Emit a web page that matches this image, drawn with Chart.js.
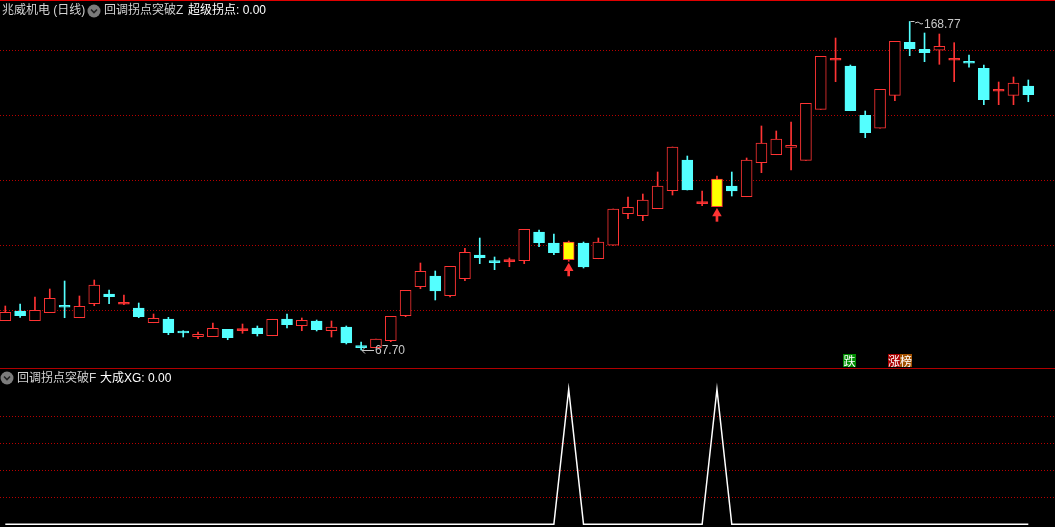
<!DOCTYPE html>
<html>
<head>
<meta charset="utf-8">
<script src="https://cdn.jsdelivr.net/npm/chart.js@4.4.0/dist/chart.umd.min.js"></script>
<style>
  body { margin: 0; background: #000; width: 1055px; height: 527px; overflow: hidden; position: relative;
         font-family: "Liberation Sans", "Noto Sans CJK SC", sans-serif; }
  canvas { position: absolute; left: 0; }
  #kChart { top: 0; }
  #xgChart { top: 369px; }
  .line { position: absolute; left: 0; width: 1055px; }
  #topLine { top: 0; height: 1px; background: #e00000; }
  #sepLine { top: 368px; height: 1px; background: #b00000; }
  .txt { position: absolute; font-size: 12px; line-height: 15px; white-space: nowrap; z-index: 2; }
  .icon { position: absolute; z-index: 2; }
  .tag { position: absolute; top: 354px; height: 13px; font-size: 12px; line-height: 13px; color: #fff;
         text-align: center; font-family: "Noto Sans CJK SC", sans-serif; z-index: 2; }
</style>
</head>
<body>
<canvas id="kChart" width="1055" height="368"></canvas>
<canvas id="xgChart" width="1055" height="158"></canvas>
<div class="line" id="topLine"></div>
<div class="line" id="sepLine"></div>

<!-- top panel header -->
<span class="txt" style="left:2px;top:3px;color:#d4d4d4">兆威机电 (日线)</span>
<svg class="icon" style="left:87px;top:4px" width="14" height="14"><circle cx="7" cy="7" r="6.5" fill="#7c7c7c"/><path d="M4 5.5 L7 8.5 L10 5.5" stroke="#222" stroke-width="1.6" fill="none"/></svg>
<span class="txt" style="left:104px;top:3px;color:#d4d4d4">回调拐点突破Z</span>
<span class="txt" style="left:188px;top:3px;color:#ffffff">超级拐点: 0.00</span>

<!-- bottom panel header -->
<svg class="icon" style="left:0px;top:371px" width="14" height="14"><circle cx="7" cy="7" r="6.5" fill="#7c7c7c"/><path d="M4 5.5 L7 8.5 L10 5.5" stroke="#222" stroke-width="1.6" fill="none"/></svg>
<span class="txt" style="left:17px;top:371px;color:#d4d4d4">回调拐点突破F</span>
<span class="txt" style="left:100px;top:371px;color:#ffffff">大成XG: 0.00</span>

<span class="tag" style="left:843px;width:13px;background:#008a00">跌</span>
<span class="tag" style="left:888px;width:12px;background:#a80000">涨</span>
<span class="tag" style="left:900px;width:12px;background:#a05000">榜</span>

<script>
// ---- 1. DATA ---------------------------------------------------------
const opens = [
  76.71, 79.69, 76.71, 79.17, 81.16, 77.63, 81.94, 84.92, 82.06, 80.62,
  76.09, 77.23, 73.25, 71.78, 71.78, 74.06, 73.94, 74.46, 72.09, 77.23,
  75.17, 76.62, 73.63, 74.77, 68.73, 68.40, 70.55, 78.25, 87.17, 90.46,
  84.40, 89.63, 96.92, 94.88, 95.17, 95.17, 104.00, 100.62, 95.48, 100.62,
  95.78, 99.91, 109.63, 109.02, 111.17, 116.71, 126.15, 113.02, 111.78, 118.15,
  114.86, 125.32, 127.78, 130.06, 126.06, 141.75, 157.14, 155.08, 139.91, 135.91,
  146.06, 162.37, 160.22, 159.91, 157.14, 156.24, 154.37, 147.60, 146.06, 148.92
];
const closes = [
  79.29, 78.25, 79.91, 83.60, 81.14, 81.14, 87.69, 84.09, 82.08, 77.94,
  77.45, 73.02, 73.23, 72.52, 74.37, 71.48, 73.96, 72.71, 77.14, 75.48,
  76.83, 73.94, 74.77, 69.85, 68.71, 71.08, 78.06, 86.06, 91.91, 85.85,
  93.45, 97.75, 96.09, 94.86, 95.19, 104.83, 100.71, 97.63, 100.92, 93.23,
  100.92, 111.08, 111.60, 113.85, 118.15, 130.15, 116.92, 113.04, 120.31, 116.62,
  126.15, 131.38, 132.62, 130.68, 143.60, 158.06, 157.16, 141.32, 134.55, 147.91,
  162.68, 160.40, 159.17, 161.14, 157.16, 156.22, 144.71, 147.62, 149.85, 146.25
];
const highs = [
  81.23, 81.85, 84.00, 86.46, 88.92, 84.31, 89.23, 86.15, 84.62, 82.15,
  78.77, 77.75, 73.63, 73.23, 76.00, 74.06, 75.69, 75.08, 77.14, 78.77,
  77.54, 76.92, 76.62, 75.08, 70.15, 71.08, 78.06, 86.06, 94.46, 92.00,
  93.45, 98.98, 102.15, 96.31, 96.00, 104.83, 104.62, 103.38, 101.23, 100.92,
  102.15, 111.08, 114.77, 115.69, 122.46, 130.15, 127.38, 116.62, 121.23, 122.46,
  126.77, 136.62, 135.08, 137.85, 143.60, 158.06, 163.69, 155.38, 141.23, 147.91,
  162.68, 168.77, 165.23, 164.92, 162.25, 158.46, 155.38, 150.15, 151.69, 150.77
];
const lows = [
  76.71, 77.75, 76.71, 79.17, 77.63, 77.63, 81.32, 81.94, 81.63, 77.63,
  76.09, 72.40, 71.69, 71.17, 71.78, 70.86, 72.83, 72.00, 72.09, 74.46,
  73.63, 73.54, 71.69, 69.54, 67.70, 68.40, 70.25, 77.94, 86.55, 83.08,
  84.00, 89.02, 94.25, 92.40, 93.32, 94.25, 99.48, 97.02, 94.98, 92.92,
  95.78, 99.91, 108.09, 107.48, 111.17, 115.38, 116.92, 112.09, 111.78, 115.08,
  114.86, 122.25, 127.78, 123.08, 126.06, 141.75, 150.25, 141.32, 133.02, 135.91,
  144.40, 158.25, 156.40, 155.60, 150.25, 154.68, 143.17, 143.17, 143.17, 144.09
];
// 大成XG signal (bottom panel)
const signal = [
  0, 0, 0, 0, 0, 0, 0, 0, 0, 0,
  0, 0, 0, 0, 0, 0, 0, 0, 0, 0,
  0, 0, 0, 0, 0, 0, 0, 0, 0, 0,
  0, 0, 0, 0, 0, 0, 0, 0, 1, 0,
  0, 0, 0, 0, 0, 0, 0, 0, 1, 0,
  0, 0, 0, 0, 0, 0, 0, 0, 0, 0,
  0, 0, 0, 0, 0, 0, 0, 0, 0, 0
];
const priceGridStep = 20;

// ---- 2. LOOK --------------------------------------------------------
const RED = "#ff3434";
const CYAN = "#54ffff";
const YELLOW = "#ffff00";
const BG = "#000000";
const GRID = "#b80000";
const LABEL = "#c8c8c8";
const MIN_BODY = 0.6; // price units, keeps flat candles visible

const X_MIN = -0.3575, X_MAX = 70.8;
const idx = opens.map((_, i) => i);

function isUp(i) { return closes[i] >= opens[i]; }
function candleColor(i) { return isUp(i) ? RED : CYAN; }
function bodyFill(i) {
  if (signal[i] === 1) return YELLOW;
  if (Math.abs(closes[i] - opens[i]) < MIN_BODY) return candleColor(i);
  return isUp(i) ? BG : CYAN;
}

const bodyData = idx.map(i => {
  let lo = Math.min(opens[i], closes[i]);
  let hi = Math.max(opens[i], closes[i]);
  if (hi - lo < MIN_BODY) {
    const mid = (hi + lo) / 2;
    lo = mid - MIN_BODY / 2;
    hi = mid + MIN_BODY / 2;
  }
  return { x: i, y: [lo, hi] };
});
const wickData = idx.map(i => ({ x: i, y: [lows[i], highs[i]] }));
const sigIdx = idx.filter(i => signal[i] === 1);
const arrowHeads = sigIdx.map(i => ({ x: i, y: lows[i] - 2.1 }));
const arrowStems = sigIdx.map(i => ({ x: i, y: [lows[i] - 4.5, lows[i] - 2.3] }));

// ---- 3. HIGH / LOW LABELS -------------------------------------------
const extremeLabels = {
  id: "extremeLabels",
  afterDatasetsDraw(chart) {
    const { ctx, scales: { x, y } } = chart;
    let iMax = 0, iMin = 0;
    idx.forEach(i => {
      if (highs[i] > highs[iMax]) iMax = i;
      if (lows[i] < lows[iMin]) iMin = i;
    });
    ctx.save();
    ctx.strokeStyle = LABEL;
    ctx.fillStyle = LABEL;
    ctx.lineWidth = 1;
    ctx.font = "12px 'Liberation Sans', sans-serif";
    ctx.textBaseline = "middle";

    // top
    let px = Math.round(x.getPixelForValue(iMax)), py = Math.round(y.getPixelForValue(highs[iMax]));
    ctx.beginPath();
    ctx.moveTo(px + 0.5, py + 0.5);
    ctx.lineTo(px + 4.5, py + 0.5);
    ctx.moveTo(px + 5, py + 2);
    ctx.lineTo(px + 8, py + 1);
    ctx.lineTo(px + 11, py + 3);
    ctx.lineTo(px + 13, py + 2.5);
    ctx.stroke();
    ctx.fillText(highs[iMax].toFixed(2), px + 14, py + 4);

    // bottom
    px = Math.round(x.getPixelForValue(iMin));
    py = Math.round(y.getPixelForValue(lows[iMin]));
    ctx.beginPath();
    ctx.moveTo(px + 1, py + 0.5);
    ctx.lineTo(px + 13, py + 0.5);
    ctx.moveTo(px + 4, py - 2.5);
    ctx.lineTo(px + 1, py + 0.5);
    ctx.lineTo(px + 4, py + 3.5);
    ctx.stroke();
    ctx.fillText(lows[iMin].toFixed(2), px + 14, py + 1);
    ctx.restore();
  }
};

// ---- 4. CANDLE CHART ------------------------------------------------
new Chart(document.getElementById("kChart"), {
  type: "bar",
  data: {
    datasets: [
      {
        label: "body",
        data: bodyData,
        order: 0,
        grouped: false,
        barThickness: 11,
        backgroundColor: idx.map(bodyFill),
        borderColor: idx.map(candleColor),
        borderWidth: 1,
        borderSkipped: false
      },
      {
        label: "arrow",
        type: "line",
        data: arrowHeads,
        order: 1,
        showLine: false,
        pointStyle: "triangle",
        pointRadius: 5.5,
        pointBackgroundColor: RED,
        pointBorderColor: RED,
        pointBorderWidth: 0
      },
      {
        label: "arrowStem",
        data: arrowStems,
        order: 1,
        grouped: false,
        barThickness: 2,
        backgroundColor: RED,
        borderWidth: 0
      },
      {
        label: "wick",
        data: wickData,
        order: 2,
        grouped: false,
        barThickness: 1,
        backgroundColor: idx.map(candleColor),
        borderWidth: 0
      }
    ]
  },
  options: {
    responsive: false,
    animation: false,
    layout: { padding: 0, autoPadding: false },
    scales: {
      x: { type: "linear", min: X_MIN, max: X_MAX, offset: false, display: false },
      y: {
        min: 62.154,
        max: 175.385,
        ticks: { display: false, stepSize: priceGridStep },
        grid: {
          color: c => (Math.abs(c.tick.value % priceGridStep) < 0.01 ? GRID : "transparent"),
          drawTicks: false,
          lineWidth: 1
        },
        border: { display: false, dash: [1, 2] },
        afterFit: s => { s.width = 0; }
      }
    },
    plugins: { legend: { display: false }, tooltip: { enabled: false } }
  },
  plugins: [extremeLabels]
});

// ---- 5. SIGNAL CHART ------------------------------------------------
new Chart(document.getElementById("xgChart"), {
  type: "line",
  data: {
    datasets: [{
      label: "大成XG",
      data: idx.map(i => ({ x: i, y: signal[i] })),
      borderColor: "#ffffff",
      borderWidth: 1.5,
      pointRadius: 0,
      tension: 0
    }]
  },
  options: {
    responsive: false,
    animation: false,
    layout: { padding: 0, autoPadding: false },
    scales: {
      x: { type: "linear", min: X_MIN, max: X_MAX, offset: false, display: false },
      y: {
        min: -0.02,
        max: 1.15,
        ticks: { display: false, stepSize: 0.2 },
        grid: {
          color: c => {
            const v = Math.round(c.tick.value * 10) / 10;
            return v > 0.1 && v < 0.9 ? GRID : "transparent";
          },
          drawTicks: false
        },
        border: { display: false, dash: [1, 2] },
        afterFit: s => { s.width = 0; }
      }
    },
    plugins: { legend: { display: false }, tooltip: { enabled: false } }
  }
});
</script>
</body>
</html>
